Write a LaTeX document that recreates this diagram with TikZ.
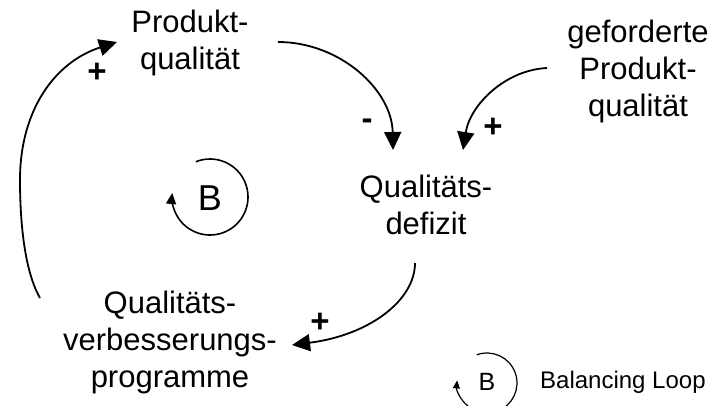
\documentclass[tikz,border=0pt]{standalone}
\usepackage{fontspec}
\setmainfont{Liberation Sans}
\usetikzlibrary{arrows.meta}
\begin{document}
\begin{tikzpicture}[x=1pt,y=-1pt,
  var/.style={align=center,font=\fontsize{31}{37}\selectfont,inner sep=0pt},
  lbl/.style={font=\fontsize{33}{33}\selectfont\bfseries,inner sep=0pt},
  link/.style={line width=1.8pt,-{Triangle[length=18pt,width=17pt]}},
  loop/.style={line width=1.6pt,-{Triangle[length=11pt,width=10pt]}},
  loopsmall/.style={line width=1.2pt,-{Triangle[length=8pt,width=7pt]}}]
\useasboundingbox (0,0) rectangle (713,405);
\node[var] (pq) at (190,43) {Produkt-\\qualität};
\node[var] (gpq) at (638,71) {geforderte\\Produkt-\\qualität};
\node[var] (qd) at (426,205) {Qualitäts-\\defizit};
\node[var] (qvp) at (170,342) {Qualitäts-\\verbesserungs-\\programme};
\coordinate (a1s) at (278,42);
\coordinate (a1e) at (393,150);
\coordinate (a2s) at (547,68);
\coordinate (a2e) at (463,150);
\coordinate (a3s) at (415,263);
\coordinate (a3e) at (292,345);
\coordinate (a4s) at (40,298);
\coordinate (a4m) at (20,180);
\coordinate (a4e) at (117,42);
\draw[link] (a1s) .. controls (340,42) and (392,90) .. (a1e);
\draw[link] (a2s) .. controls (505,70) and (470,105) .. (a2e);
\draw[link] (a3s) .. controls (415,300) and (370,335) .. (a3e);
\draw[link] (a4s) .. controls (24,270) and (20,220) .. (a4m) .. controls (20,110) and (55,62) .. (a4e);
\node[lbl] (m1) at (367,124) {-};
\node[lbl] (p2) at (493,128) {+};
\node[lbl] (p3) at (320,323) {+};
\node[lbl] (p4) at (97,73) {+};
% loop marker
\node[font=\fontsize{36}{36}\selectfont,inner sep=0pt] (B) at (210,198) {B};
\draw[loop] (210,197) ++(-112:38) arc[start angle=-112,end angle=186,radius=38];
% legend
\node[font=\fontsize{25}{25}\selectfont,inner sep=0pt] (LB) at (487,382) {B};
\draw[loopsmall] (487,383) ++(-110:30) arc[start angle=-110,end angle=185,radius=30];
\node[font=\fontsize{24}{24}\selectfont,anchor=west,inner sep=0pt] (BL) at (540,382) {Balancing Loop};
\end{tikzpicture}
\end{document}
